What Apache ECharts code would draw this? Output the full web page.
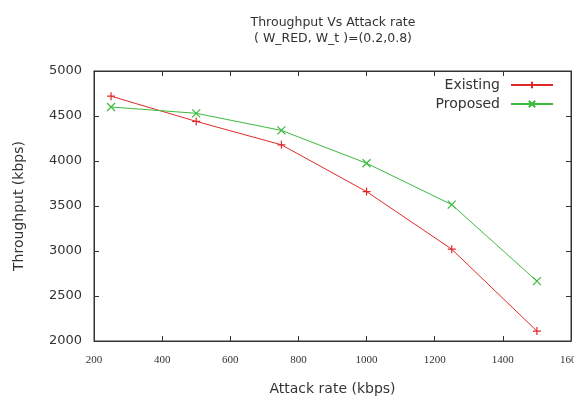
<!DOCTYPE html>
<html>
<head>
<meta charset="utf-8">
<script src="https://cdn.jsdelivr.net/npm/echarts@6/dist/echarts.min.js"></script>
<style>html,body{margin:0;padding:0;background:#fff}#c{width:574px;height:398px}</style>
</head>
<body>
<div id="c"></div>
<script>
const attackRate = [250, 500, 750, 1000, 1250, 1500];
const existing = [4720, 4440, 4180, 3660, 3020, 2110];
const proposed = [4600, 4530, 4340, 3975, 3515, 2665];
const seriesNames = ['Existing', 'Proposed'];
const titleLines = ['Throughput Vs Attack rate', '( W_RED, W_t )=(0.2,0.8)'];
const xName = 'Attack rate (kbps)';
const yName = 'Throughput (kbps)';

const plusPath = 'path://M0,5L10,5M5,0L5,10';
const crossPath = 'path://M0,0L10,10M10,0L0,10';
const red = '#e02a2a';
const green = '#3cba3c';
const sans = 'DejaVu Sans';
const plain = v => String(v);

const chart = echarts.init(document.getElementById('c'), null, {renderer: 'canvas'});
const axisLine = {show: true, lineStyle: {color: '#333', width: 1}};
const tick = {show: true, inside: true, length: 5, lineStyle: {color: '#333'}};
chart.setOption({
  animation: false,
  backgroundColor: '#fff',
  title: {
    text: titleLines.join('\n'),
    left: 333, top: 15, textAlign: 'center', padding: 0,
    textStyle: {fontFamily: sans, fontSize: 12.5, fontWeight: 'normal', color: '#333', lineHeight: 15.5}
  },
  legend: {
    orient: 'vertical', right: 15, top: 73, align: 'right',
    itemWidth: 42, itemHeight: 8, itemGap: 5,
    textStyle: {fontFamily: sans, fontSize: 14, color: '#333', padding: [0, 6, 0, 0]},
    data: seriesNames
  },
  grid: {left: 94, right: 3, top: 71, bottom: 57, show: true, borderColor: '#333', borderWidth: 1, outerBoundsMode: 'none', containLabel: false},
  xAxis: [{
    type: 'value', min: 200, max: 1600, interval: 200,
    name: xName, nameLocation: 'middle', nameGap: 41,
    nameTextStyle: {fontFamily: sans, fontSize: 14, color: '#333'},
    axisLine: axisLine, axisTick: tick, splitLine: {show: false},
    axisLabel: {fontFamily: 'Liberation Serif', fontSize: 11, color: '#333', margin: 14, formatter: plain}
  }, {
    type: 'value', min: 200, max: 1600, interval: 200, position: 'top',
    axisLine: axisLine, axisTick: tick, splitLine: {show: false}, axisLabel: {show: false}
  }],
  yAxis: [{
    type: 'value', min: 2000, max: 5000, interval: 500,
    name: yName, nameLocation: 'middle', nameGap: 68,
    nameTextStyle: {fontFamily: sans, fontSize: 14, color: '#333'},
    axisLine: axisLine, axisTick: tick, splitLine: {show: false},
    axisLabel: {fontFamily: sans, fontSize: 13, color: '#333', margin: 12, formatter: plain}
  }, {
    type: 'value', min: 2000, max: 5000, interval: 500, position: 'right',
    axisLine: axisLine, axisTick: tick, splitLine: {show: false}, axisLabel: {show: false}
  }],
  series: [{
    name: seriesNames[0], type: 'line',
    data: attackRate.map((x, i) => [x, existing[i]]),
    symbol: plusPath, symbolSize: 8,
    lineStyle: {color: red, width: 1},
    itemStyle: {color: red, borderColor: red, borderWidth: 1.2}
  }, {
    name: seriesNames[1], type: 'line',
    data: attackRate.map((x, i) => [x, proposed[i]]),
    symbol: crossPath, symbolSize: 8,
    lineStyle: {color: green, width: 1},
    itemStyle: {color: green, borderColor: green, borderWidth: 1.2}
  }]
});
</script>
</body>
</html>
